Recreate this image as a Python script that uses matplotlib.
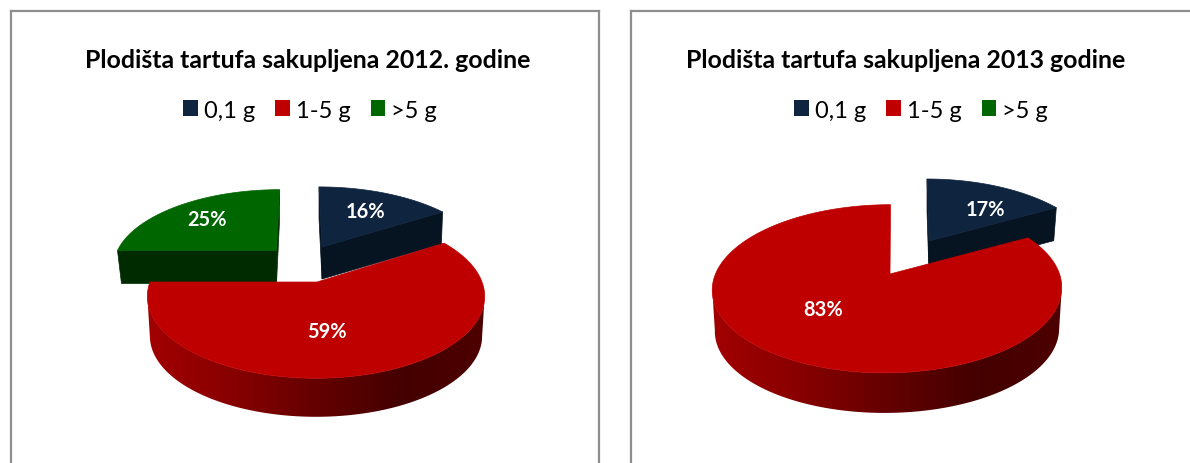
import numpy as np
import matplotlib
matplotlib.use("Agg")
import matplotlib.pyplot as plt
from matplotlib.patches import Patch, Polygon
from matplotlib.colors import LinearSegmentedColormap

plt.rcParams['font.family'] = ['Lato', 'DejaVu Sans']

# ---- data
categories = ['0,1 g', '1-5 g', '>5 g']
values_2012 = [16, 59, 25]
values_2013 = [17, 83, 0]
title_2012 = 'Plodišta tartufa sakupljena 2012. godine'
title_2013 = 'Plodišta tartufa sakupljena 2013 godine'

# ---- style
W, H = 1190, 464
top_cols = ['#0F243E', '#BE0000', '#006600']
cut_cols = ['#061320', '#600000', '#002B00']
FRAME = '#8E8E8E'
wall_cmap = LinearSegmentedColormap.from_list(
    'wall', [(0, '#A20000'), (0.25, '#880000'), (0.5, '#640000'),
             (0.75, '#440000'), (1, '#4E0000')])


def project(g, a, rx_scale=1.0, ry_scale=1.0, dy=0.0):
    """Map an angle on the pie to pixel coordinates with a simple perspective."""
    c, s = np.cos(a), np.sin(a)
    d = 1 + g['k'] * s
    x = g['cx'] + g['rx'] * rx_scale * c / d + g.get('skew', 0) * s
    y = g['cy'] + dy - g['ry'] * ry_scale * s / d
    return x, y


def draw_slice(ax, g, a0, a1, col, cut_col, z):
    # a0 > a1: clockwise sweep, degrees
    ang = np.radians(np.linspace(a0, a1, 400))
    depth = g['depth']
    apex = (g['cx'] + g.get('apex_dx', 0), g['cy'])
    if g.get('wall'):
        # the wall runs between the two points of greatest width
        front = ang[np.sin(ang) < -g['k']]
        x0, y0 = project(g, front)
        x1, y1 = project(g, front, 0.985, 0.985, depth)
        wall = Polygon(np.r_[np.c_[x0, y0], np.c_[x1, y1][::-1]], closed=True,
                       fc='none', ec='none', transform=ax.transData)
        ax.add_patch(wall)
        grad = np.linspace(0, 1, 256)[None, :]
        im = ax.imshow(grad, cmap=wall_cmap, aspect='auto', zorder=z,
                       extent=(g['cx'] - g['rx'] * 1.03, g['cx'] + g['rx'] * 1.03,
                               y1.max() + 2, y0.min() - 2),
                       interpolation='bilinear')
        im.set_clip_path(wall)
    else:
        # flat cut face below the straight edges of an exploded slice
        taper = g.get('taper', 1.0)
        for edge in (a0, a1):
            ex, ey = project(g, np.radians(edge))
            bx = g['cx'] + (ex - g['cx']) * taper
            ax.add_patch(Polygon(
                [apex, (ex, ey), (bx, ey + depth), (g['cx'], g['cy'] + depth)],
                closed=True, fc=cut_col, ec=cut_col, lw=0.5, zorder=z))
    x, y = project(g, ang)
    ax.add_patch(Polygon(np.r_[[apex], np.c_[x, y]], closed=True,
                         fc=col, ec=col, lw=0.5, zorder=z + 0.5))


def draw_panel(box, values, title, title_x, title_y, legend_xy, geoms, label_xy,
               right_edge=True):
    x0, x1 = box
    ax = fig.add_axes([x0 / W, 0, (x1 - x0) / W, (H - 11.5) / H])
    ax.set_xticks([])
    ax.set_yticks([])
    ax.spines['bottom'].set_visible(False)
    ax.spines['right'].set_visible(right_edge)
    for n in ('top', 'left', 'right'):
        ax.spines[n].set_color(FRAME)
        ax.spines[n].set_linewidth(1.6)

    ax.set_title(title, fontsize=17.9, fontweight='bold', color='black', pad=0,
                 x=(title_x - x0) / (x1 - x0),
                 y=(H - title_y) / (H - 11.5), va='center', ha='center')

    handles = [Patch(fc=c, ec='none') for c in top_cols]
    ax.legend(handles, categories, ncol=3, frameon=False, fontsize=17.0,
              loc='center', bbox_to_anchor=legend_xy,
              bbox_transform=ax.transData, handlelength=0.63, handleheight=0.63,
              handletextpad=0.25, columnspacing=0.85, labelcolor='black')

    # slices run clockwise from 12 o'clock; back slices are drawn first
    start = 90.0
    spans = []
    for v in values:
        spans.append((start, start - v * 3.6))
        start -= v * 3.6
    order = sorted(range(len(values)),
                   key=lambda i: geoms[i] is not None and geoms[i].get('wall', False))
    for n, i in enumerate(order):
        if values[i] == 0:
            continue
        draw_slice(ax, geoms[i], spans[i][0], spans[i][1],
                   top_cols[i], cut_cols[i], 2 + n)
        ax.text(*label_xy[i], f'{values[i]}%', color='white', fontsize=14.4,
                fontweight='bold', ha='center', va='center', zorder=10)
    ax.set_xlim(x0, x1)
    ax.set_ylim(H, 11.5)


fig = plt.figure(figsize=(W / 100, H / 100), dpi=100, facecolor='white')

draw_panel(
    (10.5, 598.5), values_2012, title_2012, 308, 60, (310, 111),
    [dict(cx=322, cy=248, rx=161, ry=72.7, k=0.21, skew=-3, depth=32, taper=0.99),
     dict(cx=316, cy=283, rx=166, ry=79.3, k=0.176, depth=40, wall=True, apex_dx=1),
     dict(cx=276.5, cy=251.5, rx=159, ry=73, k=0.2, skew=3, depth=33, taper=0.975)],
    [(365, 212), (327, 332), (207, 220)])

draw_panel(
    (630.5, 1195), values_2013, title_2013, 906, 60, (921, 111),
    [dict(cx=929, cy=242, rx=164, ry=77.5, k=0.25, skew=-2, depth=33, taper=0.98),
     dict(cx=887.5, cy=275, rx=172, ry=81.5, k=0.176, skew=3, depth=41.5, wall=True, apex_dx=2.5),
     None],
    [(985, 210), (823, 310), None], right_edge=False)

fig.savefig('out.png', dpi=100, facecolor='white')
